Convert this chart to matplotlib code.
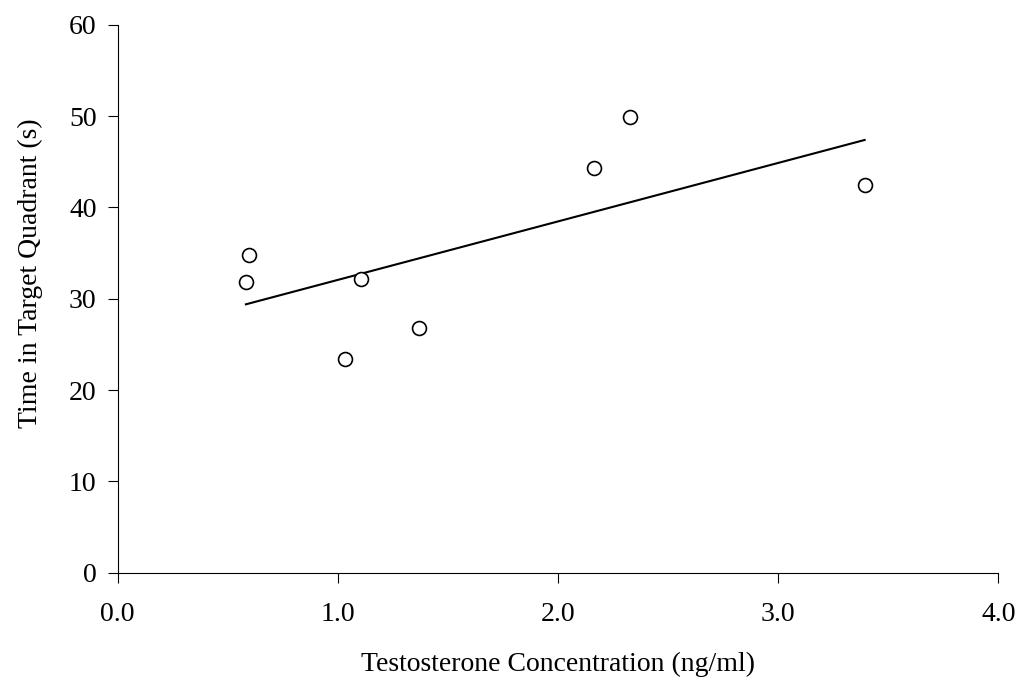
import numpy as np
import matplotlib
matplotlib.use("Agg")
import matplotlib.pyplot as plt

plt.rcParams['font.family'] = ['Liberation Serif', 'DejaVu Serif']

# testosterone (ng/ml) vs time in target quadrant (s)
testosterone = [0.583, 0.597, 1.033, 1.105, 1.369, 2.164, 2.328, 3.393]
time_in_quadrant = [31.8, 34.8, 23.4, 32.2, 26.8, 44.3, 49.9, 42.5]
x_ticks = [0.0, 1.0, 2.0, 3.0, 4.0]
y_ticks = [0, 10, 20, 30, 40, 50, 60]

fig = plt.figure(figsize=(10.28, 6.82), dpi=100)
ax = fig.add_axes([0.1143, 0.1603, 0.8568, 0.8035])

# linear trendline over the data range
slope, intercept = np.polyfit(testosterone, time_in_quadrant, 1)
x_fit = np.array([min(testosterone), max(testosterone)])
ax.plot(x_fit, slope * x_fit + intercept, color='black', lw=1.5)

ax.plot(testosterone, time_in_quadrant, 'o', ms=10, mfc='white', mec='black', mew=1.2)

ax.set_xlim(0, 4)
ax.set_ylim(0, 60)
ax.set_xticks(x_ticks)
ax.set_xticklabels([f"{v:.1f}" for v in x_ticks])
ax.set_yticks(y_ticks)

for s in ['top', 'right']:
    ax.spines[s].set_visible(False)
for s in ['left', 'bottom']:
    ax.spines[s].set_linewidth(0.8)

ax.tick_params(axis='x', direction='out', length=7, width=0.8, pad=14, labelsize=20)
ax.tick_params(axis='y', direction='out', length=7, width=0.8, pad=8, labelsize=20)

ax.set_xlabel('Testosterone Concentration (ng/ml)', fontsize=20, labelpad=18)
ax.set_ylabel('Time in Target Quadrant (s)', fontsize=20)
ax.yaxis.set_label_coords(-0.085, 0.5465)

fig.savefig('out.png', dpi=100)
